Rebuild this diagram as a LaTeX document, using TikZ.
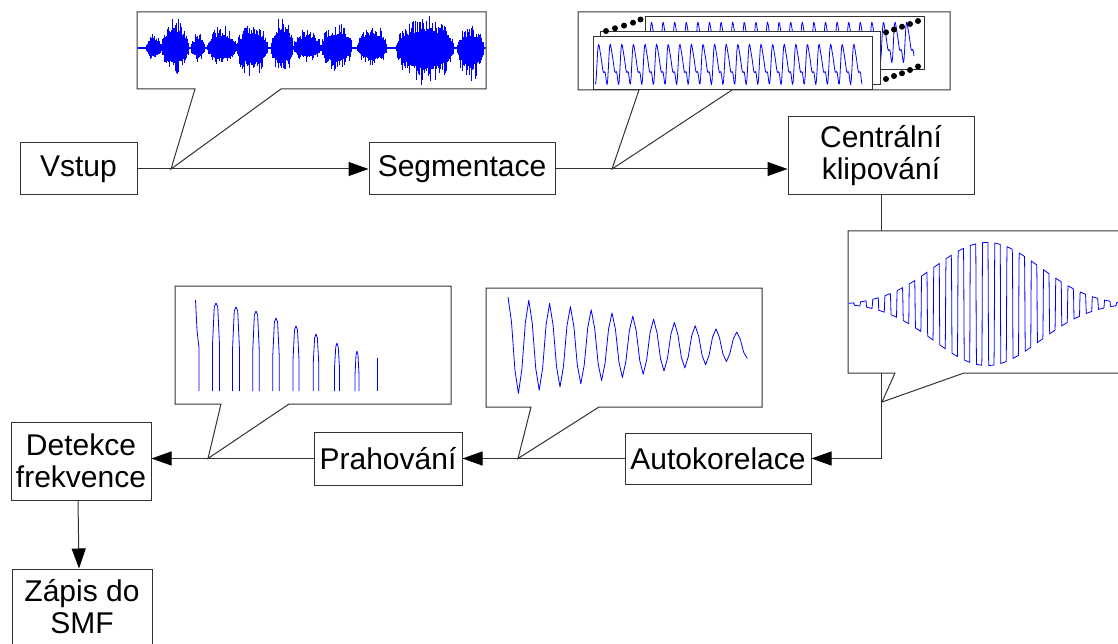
\documentclass[tikz,border=0pt]{standalone}
\usepackage{fontspec}
\setmainfont{Liberation Sans}
\usetikzlibrary{arrows.meta}
\begin{document}
\begin{tikzpicture}[x=1pt,y=-1pt,
  line/.style={draw=black!80,line width=1pt},
  box/.style={line,fill=white,inner sep=0pt,align=center,font=\fontsize{30}{32}\selectfont},
  flow/.style={line,-{Triangle[length=20pt,width=14pt,color=black]}},
  bubble/.style={line,fill=white,line join=miter},
  wave/.style={draw=blue,line width=0.8pt,line join=round},
  declare function={
    ph(\t)=360*(\t/11.6-floor(\t/11.6));
    g(\t,\q)=(sin(ph(\t)+\q)+0.45*sin(2*ph(\t)+2*\q-30)+0.2*sin(3*ph(\t)+3*\q))/1.45;
    cenv(\t)=63*exp(-((\t-987)/75)^2);
    sq(\t)=max(-1,min(1,8*sin(360*((\t-848)/12.2))));
    cc(\v)=(\v>1.5)*(\v-1.5)+(\v<-1.5)*(\v+1.5);
  }]
\useasboundingbox (0,0) rectangle (1118,644);

% processing blocks
\node[box,minimum width=117pt,minimum height=52pt] (vstup) at (78.5,169) {Vstup};
\node[box,minimum width=186pt,minimum height=52pt] (segm) at (462,169) {Segmentace};
\node[box,minimum width=186pt,minimum height=78pt] (klip) at (881,156) {Centrální\\klipování};
\node[box,minimum width=186pt,minimum height=51pt] (auto) at (718,458.5) {Autokorelace};
\node[box,minimum width=148pt,minimum height=53pt] (prah) at (388,458.5) {Prahování};
\node[box,minimum width=140pt,minimum height=78pt] (det) at (81,461) {Detekce\\frekvence};
\node[box,minimum width=140pt,minimum height=76pt] (zapis) at (82,607) {Zápis do\\SMF};

% signal flow
\draw[flow] (vstup) -- (segm);
\draw[flow] (segm.east) -- (segm.east -| klip.west);
\draw[flow] (klip.south) |- (auto.east);
\draw[flow] (auto) -- (prah);
\draw[flow] (prah.west) -- (prah.west -| det.east);
\draw[flow] ([xshift=-3pt]det.south) -- ([xshift=-3pt]zapis.north);

% callout tips on the connectors
\coordinate (t1) at (171,169);
\coordinate (t2) at (612,169);
\coordinate (t3) at (882,402);
\coordinate (t4) at (518,458.5);
\coordinate (t5) at (208,458.5);

% input speech signal
\draw[bubble] (137,12) -- (486,12) -- (486,89) -- (281,89) -- (t1) -- (195,89) -- (137,89) -- cycle;
\begin{scope}
  \clip (137.5,12.5) rectangle (485.5,88.5);
  \draw[blue,line width=1.2pt] (137,48) -- (486,48);
  \pgfmathsetseed{11}
  \foreach \sa/\sb/\su/\sd in {146/161/16/15,161/189/31/27,191/205/15/15,207/236/23/20,
      236/268/26/29,271/293/33/27,293/321/20/15,321/352/26/24,357/387/26/20,
      396/454/33/39,457/484/23/34}{
    \pgfmathtruncatemacro\nn{(\sb-\sa)/0.5}
    \foreach \i in {0,...,\nn}{
      \pgfmathsetmacro\xx{\sa+0.5*\i}
      \pgfmathsetmacro\sh{sqrt(abs(sin(180*(\i/\nn))))}
      \pgfmathsetmacro\yt{48-\su*\sh*(0.5+0.5*rnd^3)}
      \pgfmathsetmacro\yb{48+\sd*\sh*(0.5+0.5*rnd^3)}
      \draw[blue,line width=0.9pt] (\xx,\yt) -- (\xx,\yb);
    }
  }
\end{scope}

% segmented frames
\draw[bubble] (578,12) -- (950,12) -- (950,90) -- (732,90) -- (t2) -- (639,90) -- (578,90) -- cycle;
\foreach \fa/\fb/\fc/\fd/\fm/\fp in {645/17/924/70/43/0, 600/32/880/85/58/90, 593/37/872/90/65/200}{
  \begin{scope}
    \fill[white] (\fa,\fb) rectangle (\fc,\fd);
    \clip (\fa,\fb) rectangle (\fc,\fd);
    \draw[wave] plot[domain=\fa+2:\fc-10,samples=400] (\x,{\fm-23*g(\x,\fp)});
  \end{scope}
  \draw[line] (\fa,\fb) rectangle (\fc,\fd);
}
\foreach \px/\py in {606/31,615/28.3,624/25.6,633/22.7,640.5/19.5,
                   886/32.3,894/29.5,902/26.7,910/24,918/21,
                   886/79,894/76,902/73.3,910/70,918/66.5}
  \fill (\px,\py) circle (3pt);

% centre-clipped frame
\draw[bubble] (848,231) -- (1124,231) -- (1124,373) -- (964,373) -- (t3) -- (895,373) -- (848,373) -- cycle;
\begin{scope}
  \clip (848.5,231.5) rectangle (1118,372.5);
  \draw[wave,line join=miter] plot[domain=848:1118,samples=1081] (\x,{304-cc(cenv(\x)*sq(\x))});
\end{scope}

% autocorrelation
\draw[bubble] (486,288) -- (762,288) -- (762,407) -- (599,407) -- (t4) -- (531,407) -- (486,407) -- cycle;
\draw[wave] plot[domain=508:747.2,samples=70] (\x,{346-49*(1-(\x-508)/320)*cos(360*((\x-508)/20.8))});

% thresholded autocorrelation
\draw[bubble] (175,286) -- (451,286) -- (451,404) -- (289,404) -- (t5) -- (221,404) -- (175,404) -- cycle;
\draw[wave] (195.5,300) -- (197,330) -- (199,348) -- (199,391);
\foreach \pc/\pp/\pw/\ps in {216/303/3.5/345,236/307/3.5/350,256/311/3.3/352,276/318/3.2/355,
                         296/326/3/360,316/334/2.8/364,337/343/2.5/368,357/351/2/375}
  \draw[wave] (\pc-\pw,391) -- (\pc-\pw,\ps) -- (\pc-0.5*\pw,\pp+4) -- (\pc,\pp) -- (\pc+0.5*\pw,\pp+4) -- (\pc+\pw,\ps) -- (\pc+\pw,391);
\draw[wave] (377,358) -- (377,391);
\end{tikzpicture}
\end{document}
